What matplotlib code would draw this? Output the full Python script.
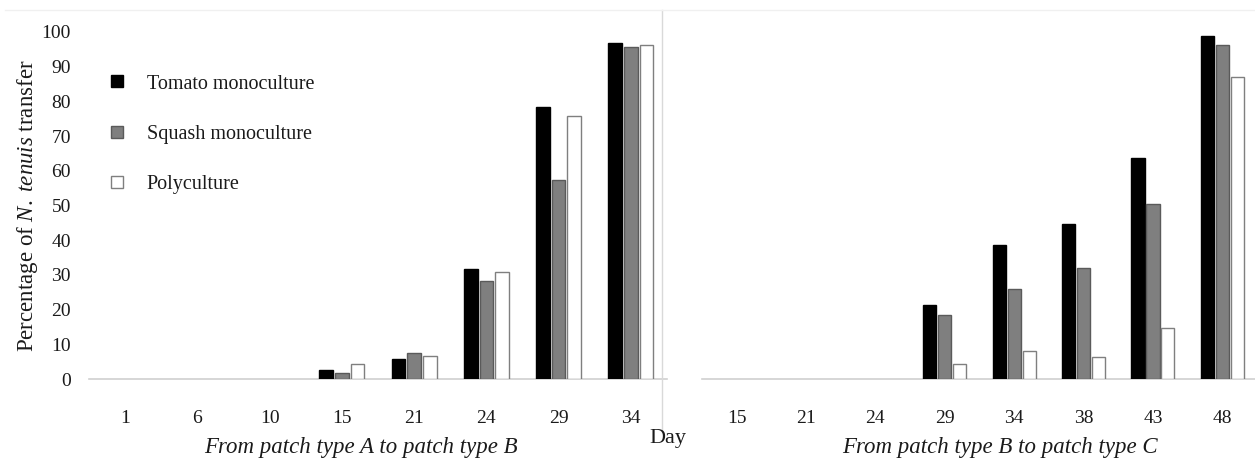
import numpy as np
import matplotlib.pyplot as plt
from matplotlib.lines import Line2D

plt.rcParams['font.family'] = ['Liberation Serif', 'DejaVu Serif']
plt.rcParams['mathtext.fontset'] = 'custom'
plt.rcParams['mathtext.it'] = 'Liberation Serif:italic'
plt.rcParams['mathtext.rm'] = 'Liberation Serif'

# ---- data ----
days_ab = ["1", "6", "10", "15", "21", "24", "29", "34"]
tomato_ab = [0, 0, 0, 2.6, 5.8, 31.7, 78.4, 96.8]
squash_ab = [0, 0, 0, 1.8, 7.5, 28.2, 57.3, 95.7]
poly_ab = [0, 0, 0, 4.3, 6.6, 30.9, 75.8, 96.2]

days_bc = ["15", "21", "24", "29", "34", "38", "43", "48"]
tomato_bc = [0, 0, 0, 21.3, 38.5, 44.8, 63.8, 98.8]
squash_bc = [0, 0, 0, 18.5, 26.0, 32.0, 50.5, 96.2]
poly_bc = [0, 0, 0, 4.4, 8.0, 6.4, 14.7, 87.0]

series_names = ["Tomato monoculture", "Squash monoculture", "Polyculture"]
face = ["#000000", "#7f7f7f", "#ffffff"]
edge = ["#000000", "#5a5a5a", "#7f7f7f"]
txt = "#1a1a1a"

W, H = 1255, 462
fig = plt.figure(figsize=(W / 100, H / 100), dpi=100)


def px_axes(x0, x1, y0, y1):
    # pixel box -> figure fraction
    return fig.add_axes([x0 / W, 1 - y1 / H, (x1 - x0) / W, (y1 - y0) / H])


ax1 = px_axes(89, 667, 32, 379)
ax2 = px_axes(702, 1257, 32, 379)

bw = 0.19
offs = [-0.215, 0, 0.215]


def draw(ax, labels, vals):
    x = np.arange(len(labels))
    for i, v in enumerate(vals):
        v = np.asarray(v, dtype=float)
        lw = np.where(v > 0, 1.0, 0.0)
        ax.bar(x + offs[i], v, bw, color=face[i], edgecolor=edge[i],
               linewidth=lw, label=series_names[i], zorder=3)
    ax.set_xlim(-0.5, len(labels) - 0.5)
    ax.set_ylim(0, 100)
    ax.set_xticks(x)
    ax.set_xticklabels(labels, fontsize=14)
    ax.tick_params(axis="x", length=0, pad=22, colors=txt)
    for s in ["top", "right", "left"]:
        ax.spines[s].set_visible(False)
    ax.spines["bottom"].set_color("#d0d0d0")
    ax.spines["bottom"].set_linewidth(1.2)
    ax.patch.set_alpha(0)


draw(ax1, days_ab, [tomato_ab, squash_ab, poly_ab])
draw(ax2, days_bc, [tomato_bc, squash_bc, poly_bc])

ax1.set_yticks(np.arange(0, 101, 10))
ax1.set_yticklabels([str(v) for v in range(0, 101, 10)], fontsize=14)
ax1.tick_params(axis="y", length=0, pad=13, colors=txt)
ax2.set_yticks([])

ax1.set_ylabel(r"Percentage of $\it{N.\ tenuis}$ transfer", fontsize=16.5,
               labelpad=1, color=txt)

# legend
handles = [Line2D([0], [0], marker="s", linestyle="none", markersize=9,
                  markerfacecolor=face[i], markeredgecolor=edge[i],
                  markeredgewidth=1.0) for i in range(3)]
ax1.legend(handles, series_names, loc="upper left",
           bbox_to_anchor=(-0.017, 0.93), frameon=False, fontsize=14.5,
           labelspacing=1.55, handletextpad=0.45, labelcolor=txt)

# divider lines
fig.add_artist(Line2D([662 / W, 662 / W], [1 - 10 / H, 1 - 432 / H],
                      color="#d9d9d9", linewidth=1))
fig.add_artist(Line2D([5 / W, 1.0], [1 - 10 / H, 1 - 10 / H],
                      color="#f0f0f0", linewidth=1))

fig.text(668 / W, 1 - 439 / H, "Day", fontsize=16, ha="center",
         va="center", color=txt)
fig.text(361 / W, 1 - 448 / H, "From patch type A to patch type B",
         fontsize=16.5, style="italic", ha="center", va="center", color=txt)
fig.text(1000 / W, 1 - 448 / H, "From patch type B to patch type C",
         fontsize=16.5, style="italic", ha="center", va="center", color=txt)

fig.savefig("out.png", dpi=100, facecolor="white")
